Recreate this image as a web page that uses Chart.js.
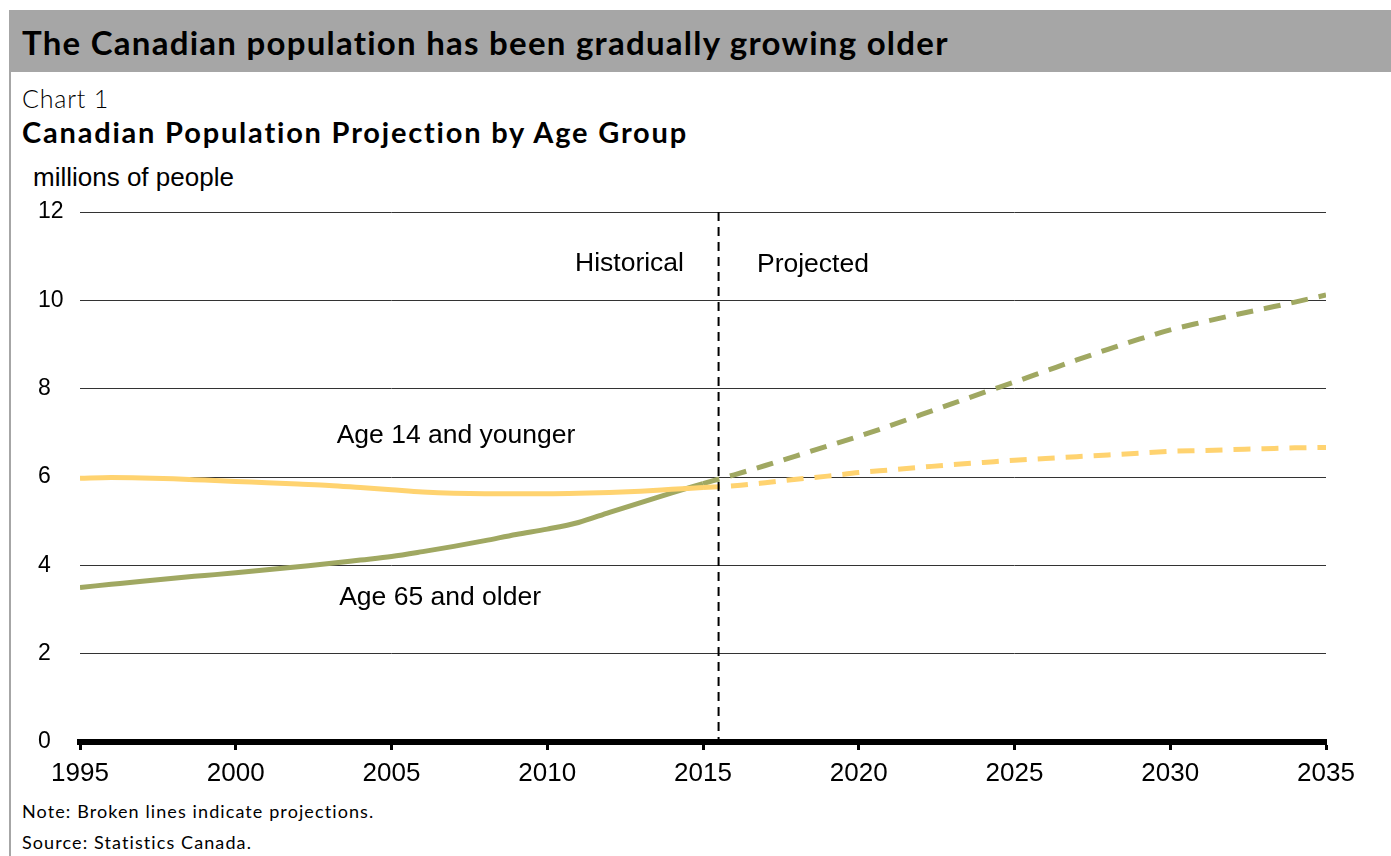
<!DOCTYPE html>
<html>
<head>
<meta charset="utf-8">
<script src="https://cdn.jsdelivr.net/npm/chart.js@4.4.1/dist/chart.umd.min.js"></script>
<style>
  body { margin: 0; background: #fff; width: 1391px; height: 856px; overflow: hidden; position: relative; font-family: "Liberation Sans", Arial, sans-serif; }
  #bordure { position: absolute; left: 9px; top: 10px; width: 2px; height: 846px; background: #a6a6a6; }
  #bandeau { position: absolute; left: 9px; top: 10px; width: 1382px; height: 62px; background: #a6a6a6; }
  #titre { position: absolute; left: 22px; top: 22px; font-family: Lato, sans-serif; font-weight: bold; font-size: 33px; letter-spacing: 1.25px; color: #000; white-space: nowrap; }
  #num { position: absolute; left: 22px; top: 83px; font-family: Lato, sans-serif; font-weight: 300; font-size: 25px; letter-spacing: 0.8px; }
  #sous { position: absolute; left: 22px; top: 114px; font-family: Lato, sans-serif; font-weight: bold; font-size: 29px; letter-spacing: 1.8px; white-space: nowrap; }
  #unite { position: absolute; left: 33px; top: 162px; font-size: 26px; }
  #note { position: absolute; left: 22px; top: 800px; font-family: Lato, sans-serif; font-size: 18px; letter-spacing: 1.1px; }
  #source { position: absolute; left: 22px; top: 831px; font-family: Lato, sans-serif; font-size: 18px; letter-spacing: 1.1px; }
  #zone { position: absolute; left: 38px; top: 150px; width: 1353px; height: 640px; }
</style>
</head>
<body>
<div id="bordure"></div>
<div id="bandeau"></div>
<div id="titre">The Canadian population has been gradually growing older</div>
<div id="num">Chart 1</div>
<div id="sous">Canadian Population Projection by Age Group</div>
<div id="unite">millions of people</div>
<div id="zone"><canvas id="graf"></canvas></div>
<div id="note">Note: Broken lines indicate projections.</div>
<div id="source">Source: Statistics Canada.</div>
<script>
// années historiques et projetées
const anneesHist = [1995,1996,1997,1998,1999,2000,2001,2002,2003,2004,2005,2006,2007,2008,2009,2010,2011,2012,2013,2014,2015];
const anneesProj = [2015,2016,2017,2018,2019,2020,2021,2022,2023,2024,2025,2026,2027,2028,2029,2030,2031,2032,2033,2034,2035];

// Age 14 and younger (millions)
const jeunesHist = [5.97,5.99,5.98,5.96,5.93,5.90,5.87,5.84,5.81,5.76,5.71,5.66,5.63,5.62,5.62,5.62,5.63,5.65,5.68,5.72,5.76];
const jeunesProj = [5.76,5.80,5.87,5.95,6.02,6.10,6.16,6.22,6.28,6.33,6.38,6.42,6.46,6.50,6.54,6.58,6.60,6.62,6.64,6.66,6.67];

// Age 65 and older (millions)
const ainesHist = [3.50,3.57,3.64,3.71,3.77,3.83,3.90,3.97,4.04,4.12,4.20,4.31,4.43,4.56,4.70,4.82,4.97,5.20,5.42,5.64,5.85];
const ainesProj = [5.85,6.05,6.26,6.48,6.70,6.92,7.16,7.41,7.66,7.91,8.15,8.40,8.65,8.89,9.12,9.33,9.50,9.66,9.81,9.96,10.12];

const anneeCoupure = 2015.5;
const ticksX = [1995,2000,2005,2010,2015,2020,2025,2030,2035];
const ticksY = [0,2,4,6,8,10,12];

const VERT = '#a0a862';
const JAUNE = '#ffd370';

function points(xs, ys) {
    return xs.map((x, i) => ({ x: x, y: ys[i] }));
}

// étiquettes dans le graphique (position en coordonnées de données)
const etiquettes = [
    { texte: 'Historical', x: 2012.64, y: 10.84 },
    { texte: 'Projected', x: 2018.53, y: 10.8 },
    { texte: 'Age 14 and younger', x: 2007.07, y: 6.93 },
    { texte: 'Age 65 and older', x: 2006.56, y: 3.26 }
];

const pluginAnnotations = {
    id: 'annotations',
    afterDatasetsDraw(chart) {
        const ctx = chart.ctx;
        const sx = chart.scales.x, sy = chart.scales.y;
        // ligne verticale pointillée
        const xv = sx.getPixelForValue(anneeCoupure);
        ctx.save();
        ctx.strokeStyle = '#000';
        ctx.lineWidth = 2;
        ctx.setLineDash([9, 6]);
        ctx.beginPath();
        ctx.moveTo(xv, sy.getPixelForValue(12));
        ctx.lineTo(xv, sy.getPixelForValue(0));
        ctx.stroke();
        ctx.setLineDash([]);
        ctx.fillStyle = '#000';
        ctx.font = '26.5px "Liberation Sans", Arial, sans-serif';
        ctx.textAlign = 'center';
        ctx.textBaseline = 'middle';
        for (const e of etiquettes) {
            ctx.fillText(e.texte, sx.getPixelForValue(e.x), sy.getPixelForValue(e.y));
        }
        ctx.restore();
    }
};

const serie = (label, data, couleur, pointille) => ({
    label: label,
    data: data,
    borderColor: couleur,
    borderWidth: 5,
    borderDash: pointille ? [17, 11] : [],
    pointRadius: 0,
    fill: false,
    cubicInterpolationMode: 'monotone'
});

new Chart(document.getElementById('graf'), {
    type: 'line',
    data: {
        datasets: [
            serie('Age 14 and younger', points(anneesHist, jeunesHist), JAUNE, false),
            serie('Age 14 and younger (projected)', points(anneesProj, jeunesProj), JAUNE, true),
            serie('Age 65 and older', points(anneesHist, ainesHist), VERT, false),
            serie('Age 65 and older (projected)', points(anneesProj, ainesProj), VERT, true)
        ]
    },
    options: {
        responsive: true,
        maintainAspectRatio: false,
        animation: false,
        layout: { padding: { left: 0, right: 65, top: 62, bottom: 0 } },
        plugins: { legend: { display: false }, tooltip: { enabled: false } },
        scales: {
            x: {
                type: 'linear',
                min: 1995,
                max: 2035,
                afterBuildTicks(s) { s.ticks = ticksX.map(v => ({ value: v })); },
                afterFit(s) { s.height = 48; },
                border: { display: true, color: '#000', width: 6 },
                grid: { display: true, drawOnChartArea: false, drawTicks: true, tickLength: 8, tickWidth: 3, tickColor: '#000' },
                ticks: {
                    color: '#000',
                    padding: 8,
                    maxRotation: 0,
                    font: { family: '"Liberation Sans", Arial, sans-serif', size: 26 },
                    callback: v => String(v)
                }
            },
            y: {
                min: 0,
                max: 12,
                afterBuildTicks(s) { s.ticks = ticksY.map(v => ({ value: v })); },
                afterFit(s) { s.width = 42; },
                border: { display: false },
                grid: { color: '#333', lineWidth: 1, drawTicks: false },
                ticks: {
                    color: '#000',
                    padding: 0,
                    crossAlign: 'far',
                    font: { family: '"Liberation Sans", Arial, sans-serif', size: 23 }
                }
            }
        }
    },
    plugins: [pluginAnnotations]
});
</script>
</body>
</html>
